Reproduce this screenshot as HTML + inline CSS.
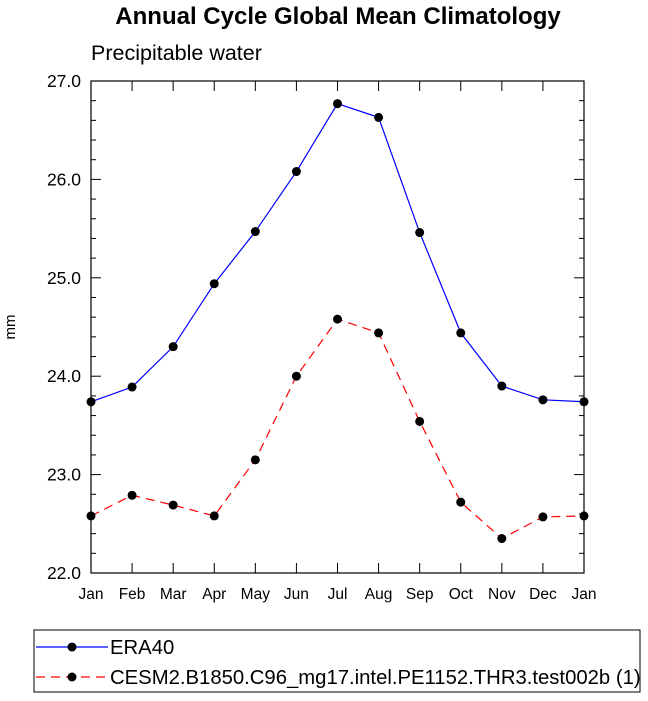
<!DOCTYPE html>
<html><head><meta charset="utf-8"><style>
body{margin:0;background:#fff;}
svg{display:block;font-family:"Liberation Sans",sans-serif;}
</style></head><body>
<svg id="chart" width="648" height="701">
<text x="338" y="24" text-anchor="middle" font-size="24" font-weight="bold">Annual Cycle Global Mean Climatology</text>
<text x="91" y="60" font-size="21.5">Precipitable water</text>
<text transform="translate(15,327) rotate(-90)" text-anchor="middle" font-size="15">mm</text>
<g id="axes"></g>
<g id="series"></g>
<rect x="34" y="630" width="606" height="62" fill="none" stroke="#000" stroke-width="1"/>
<g>
<line x1="36" y1="647" x2="108" y2="647" stroke="#0000ff" stroke-width="1.2"/>
<circle cx="72" cy="647" r="4.5" fill="#000"/>
<text x="110" y="654" font-size="20.3">ERA40</text></g>
<g>
<line x1="36" y1="677" x2="108" y2="677" stroke="#ff0000" stroke-width="1.2" stroke-dasharray="9,6"/>
<circle cx="72" cy="677" r="4.5" fill="#000"/>
<text x="110" y="684" font-size="20.3">CESM2.B1850.C96_mg17.intel.PE1152.THR3.test002b (1)</text></g>
</svg>
<script>
const months=["Jan","Feb","Mar","Apr","May","Jun","Jul","Aug","Sep","Oct","Nov","Dec","Jan"];
const era40=[23.74,23.89,24.30,24.94,25.47,26.08,26.77,26.63,25.46,24.44,23.90,23.76,23.74];
const cesm=[22.58,22.79,22.69,22.58,23.15,24.00,24.58,24.44,23.54,22.72,22.35,22.57,22.58];
const yTicks=["22.0","23.0","24.0","25.0","26.0","27.0"];
const L=91,R=584,T=81,B=573,ymin=22,ymax=27;
const ns="http://www.w3.org/2000/svg";
const xs=i=>L+(R-L)*i/(months.length-1);
const ys=v=>B-(v-ymin)/(ymax-ymin)*(B-T);
function mk(t,a,p){const e=document.createElementNS(ns,t);for(const k in a)e.setAttribute(k,a[k]);p.appendChild(e);return e;}
const ax=document.getElementById('axes'),se=document.getElementById('series');
const fr=mk('rect',{x:L,y:T,width:R-L,height:B-T,fill:'none',stroke:'#000','stroke-width':1.2},ax);


months.forEach((m,i)=>{const x=xs(i);
mk('line',{x1:x,y1:B,x2:x,y2:B-10,stroke:'#000'},ax);
mk('line',{x1:x,y1:T,x2:x,y2:T+10,stroke:'#000'},ax);
const t=mk('text',{x:x,y:B+26,'text-anchor':'middle','font-size':15.5},ax);t.textContent=m;

});
for(let v=ymin;v<=ymax+1e-9;v+=0.2){const y=ys(v);const maj=Math.abs(v-Math.round(v))<1e-6;const len=maj?10:5;
mk('line',{x1:L,y1:y,x2:L+len,y2:y,stroke:'#000'},ax);
mk('line',{x1:R,y1:y,x2:R-len,y2:y,stroke:'#000'},ax);}
yTicks.forEach(s=>{const t=mk('text',{x:L-10,y:ys(parseFloat(s))+6,'text-anchor':'end','font-size':17.5},ax);t.textContent=s;

});
function draw(vals,col,dash,name){
const p=mk('polyline',{points:vals.map((v,i)=>xs(i)+','+ys(v)).join(' '),fill:'none',stroke:col,'stroke-width':1.2,'stroke-dasharray':dash},se);


vals.forEach((v,i)=>{const c=mk('circle',{cx:xs(i),cy:ys(v),r:4.5,fill:'#000'},se);

});}
draw(era40,'#0000ff','none','era40');
draw(cesm,'#ff0000','9,6','cesm2');
</script>
</body></html>
